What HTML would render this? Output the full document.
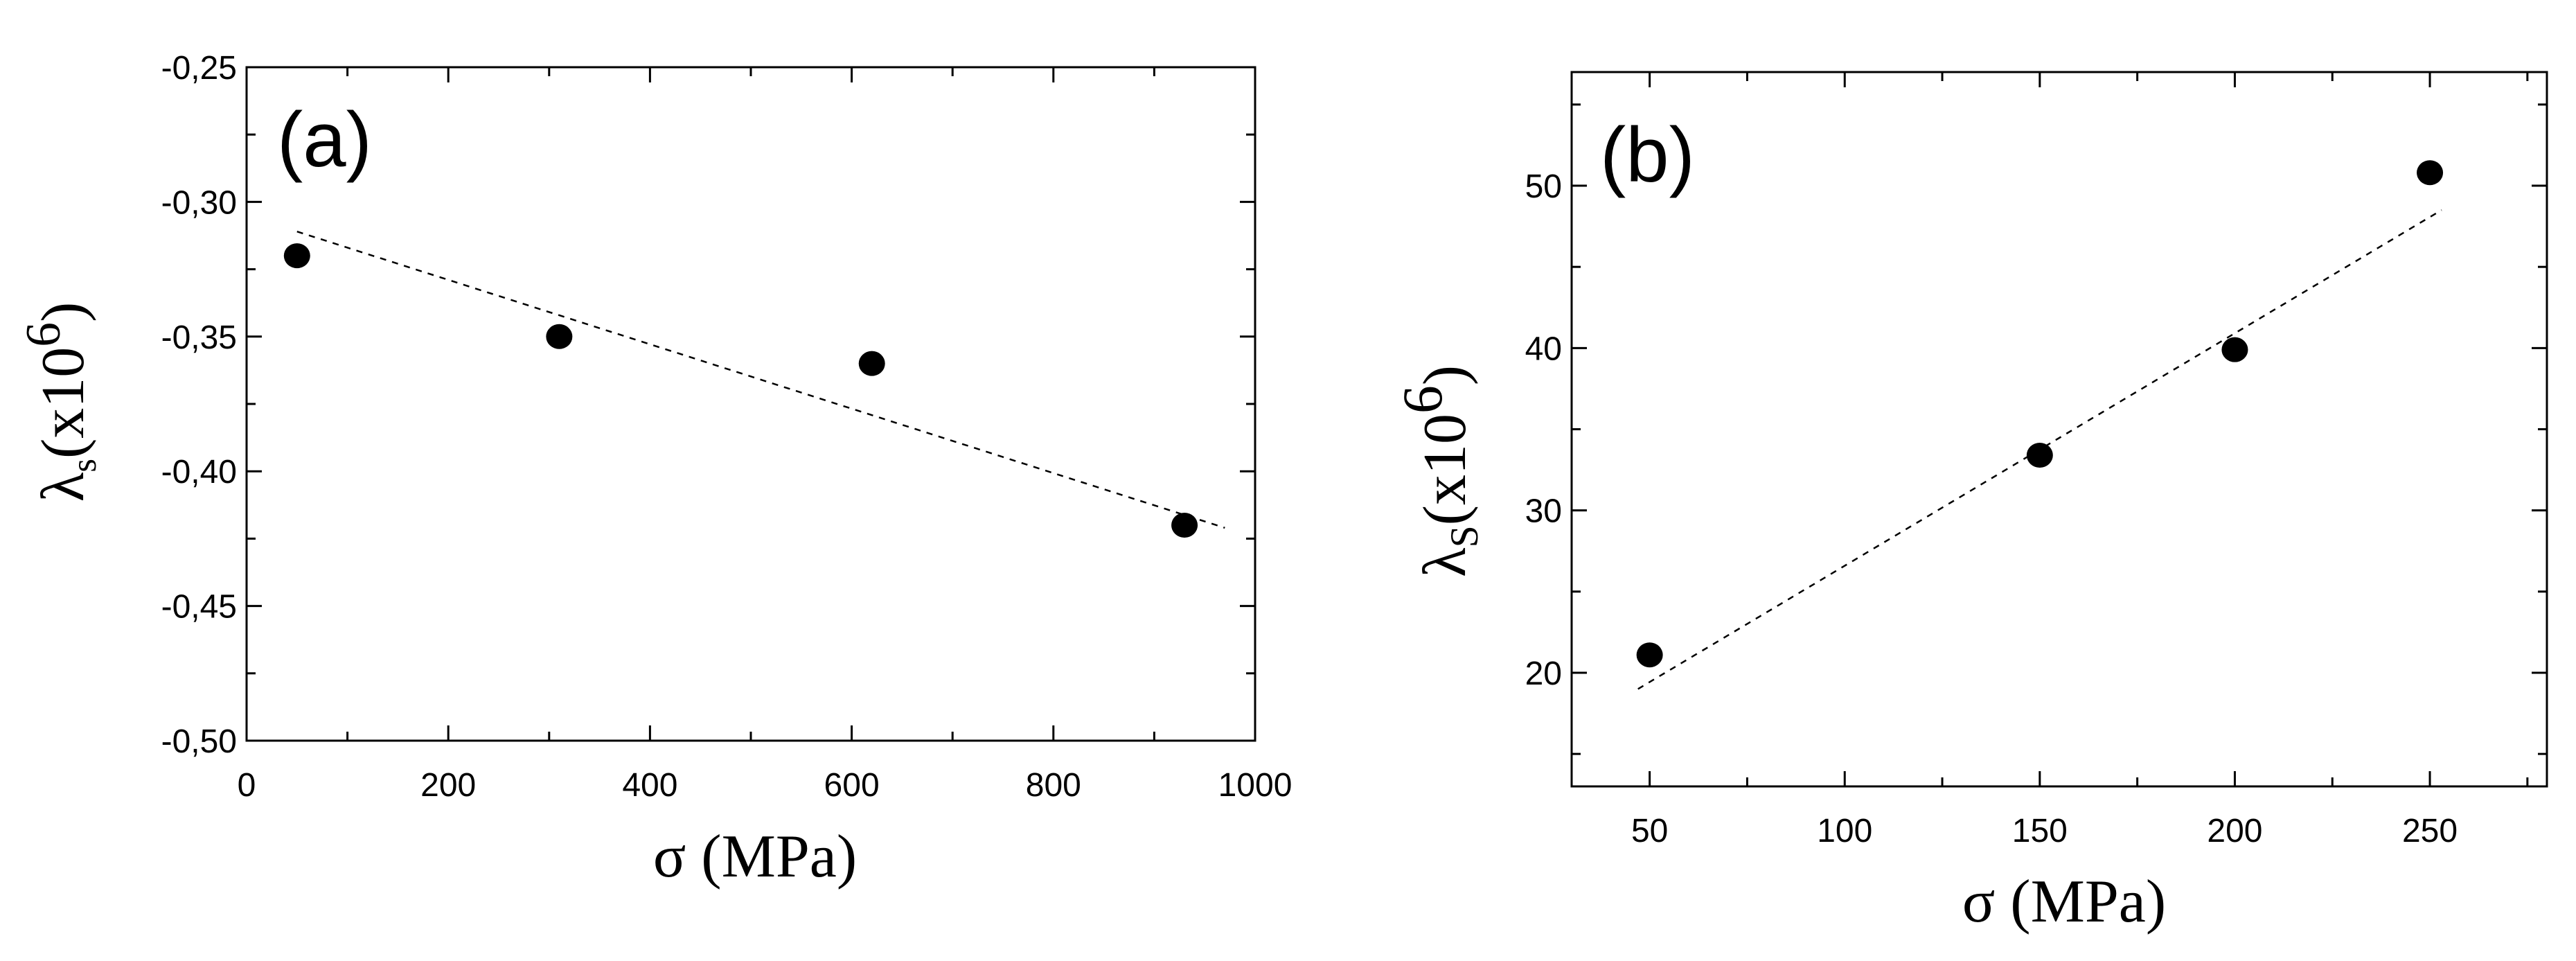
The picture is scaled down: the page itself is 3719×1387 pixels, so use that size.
<!DOCTYPE html>
<html><head><meta charset="utf-8"><style>
html,body{margin:0;padding:0;background:#fff;}
svg{display:block;}
text{fill:#000;}
.tick{font-family:"Liberation Sans",sans-serif;font-size:48px;}
.ttl{font-family:"Liberation Serif",serif;font-size:88px;}
.lbl{font-family:"Liberation Sans",sans-serif;font-size:112px;}
</style></head><body>
<svg id="fig" width="3719" height="1387" viewBox="0 0 3719 1387" xmlns="http://www.w3.org/2000/svg"></svg>
<script>
// Panel (a) data
const aX = [50, 310, 620, 930];
const aY = [-0.32, -0.35, -0.36, -0.42];
const aFitX = [50, 970];
const aFitY = [-0.311, -0.421];
const aXTicks = [0, 200, 400, 600, 800, 1000];
const aYTicks = [-0.25, -0.30, -0.35, -0.40, -0.45, -0.50];
const aYTickLabels = ["-0,25", "-0,30", "-0,35", "-0,40", "-0,45", "-0,50"];
// Panel (b) data
const bX = [50, 150, 200, 250];
const bY = [21.1, 33.4, 39.9, 50.8];
const bFitX = [47, 253];
const bFitY = [19.0, 48.5];
const bXTicks = [50, 100, 150, 200, 250];
const bYTicks = [20, 30, 40, 50];

const NS = "http://www.w3.org/2000/svg";
const svg = document.getElementById('fig');
function mk(tag, attrs, parent, txt){
  const e = document.createElementNS(NS, tag);
  for (const k in attrs) e.setAttribute(k, attrs[k]);
  if (txt !== undefined) e.textContent = txt;
  (parent || svg).appendChild(e);
  return e;
}
function panel(p){
  const g = mk('g', {});
  
  
  const sx = v => p.L + (v - p.x0) / (p.x1 - p.x0) * (p.R - p.L);
  const sy = v => p.B - (v - p.y0) / (p.y1 - p.y0) * (p.B - p.T);
  const frame = mk('rect', {x:p.L, y:p.T, width:p.R-p.L, height:p.B-p.T, fill:'none', stroke:'#000', 'stroke-width':3}, g);
  
  
  for (let v = p.xm0; v <= p.x1 + 1e-9; v += p.xminor){
    const x = sx(v);
    if (x < p.L - 1 || x > p.R + 1) continue;
    const major = p.xTicks.some(t => Math.abs(t - v) < 1e-6);
    const len = major ? 22 : 13;
    mk('line', {x1:x, y1:p.B, x2:x, y2:p.B-len, stroke:'#000', 'stroke-width':3}, g);
    mk('line', {x1:x, y1:p.T, x2:x, y2:p.T+len, stroke:'#000', 'stroke-width':3}, g);
  }
  for (let v = p.ym0; v <= p.y1 + 1e-9; v += p.yminor){
    const y = sy(v);
    if (y < p.T - 1 || y > p.B + 1) continue;
    const major = p.yTicks.some(t => Math.abs(t - v) < 1e-6);
    const len = major ? 22 : 13;
    mk('line', {x1:p.L, y1:y, x2:p.L+len, y2:y, stroke:'#000', 'stroke-width':3}, g);
    mk('line', {x1:p.R, y1:y, x2:p.R-len, y2:y, stroke:'#000', 'stroke-width':3}, g);
  }
  p.xTicks.forEach((v,i) => {
    const t = mk('text', {x:sx(v), y:p.B+80, 'text-anchor':'middle', class:'tick'}, g, String(v));
    
    
  });
  p.yTicks.forEach((v,i) => {
    const t = mk('text', {x:p.L-14, y:sy(v)+17, 'text-anchor':'end', class:'tick'}, g, p.yLabels ? p.yLabels[i] : String(v));
    
    
  });
  const fit = mk('line', {x1:sx(p.fx[0]), y1:sy(p.fy[0]), x2:sx(p.fx[1]), y2:sy(p.fy[1]), stroke:'#000', 'stroke-width':2.5, 'stroke-dasharray':'9,9'}, g);
  
  
  p.px.forEach((v,i) => {
    const c = mk('ellipse', {cx:sx(v), cy:sy(p.py[i]), rx:19, ry:18, fill:'#000'}, g);
    
    
  });
  const xt = mk('text', {x:p.xtX, y:p.xtY, 'text-anchor':'middle', class:'ttl'}, g, 'σ (MPa)');
  
  
  const yt = mk('text', {transform:`translate(${p.ytX},${p.ytY}) rotate(-90)`, 'text-anchor':'middle', class:'ttl', 'font-size':p.ytSize}, g);
  
  
  mk('tspan', {}, yt, 'λ');
  mk('tspan', {dy:18, 'font-size':p.ytSize*0.6}, yt, p.sub);
  mk('tspan', {dy:-18}, yt, '(x10');
  mk('tspan', {dy:-34, 'font-size':p.ytSize*0.85}, yt, '6');
  mk('tspan', {dy:34}, yt, ')');
  const pl = mk('text', {x:p.plX, y:p.plY, class:'lbl'}, g, p.label);
  
  
}
panel({name:'panel-a', L:356, R:1812, T:97, B:1069, x0:0, x1:1000, y0:-0.50, y1:-0.25,
  xm0:0, xminor:100, ym0:-0.50, yminor:0.025, xTicks:aXTicks, yTicks:aYTicks, yLabels:aYTickLabels,
  px:aX, py:aY, fx:aFitX, fy:aFitY, xtX:1090, xtY:1265, ytX:120, ytY:580, ytSize:84, sub:'s', plX:400, plY:240, label:'(a)'});
panel({name:'panel-b', L:2269, R:3677, T:104, B:1135, x0:30, x1:280, y0:13, y1:57,
  xm0:50, xminor:25, ym0:15, yminor:5, xTicks:bXTicks, yTicks:bYTicks,
  px:bX, py:bY, fx:bFitX, fy:bFitY, xtX:2980, xtY:1330, ytX:2115, ytY:680, ytSize:96, sub:'S', plX:2310, plY:262, label:'(b)'});
</script>
</body></html>
